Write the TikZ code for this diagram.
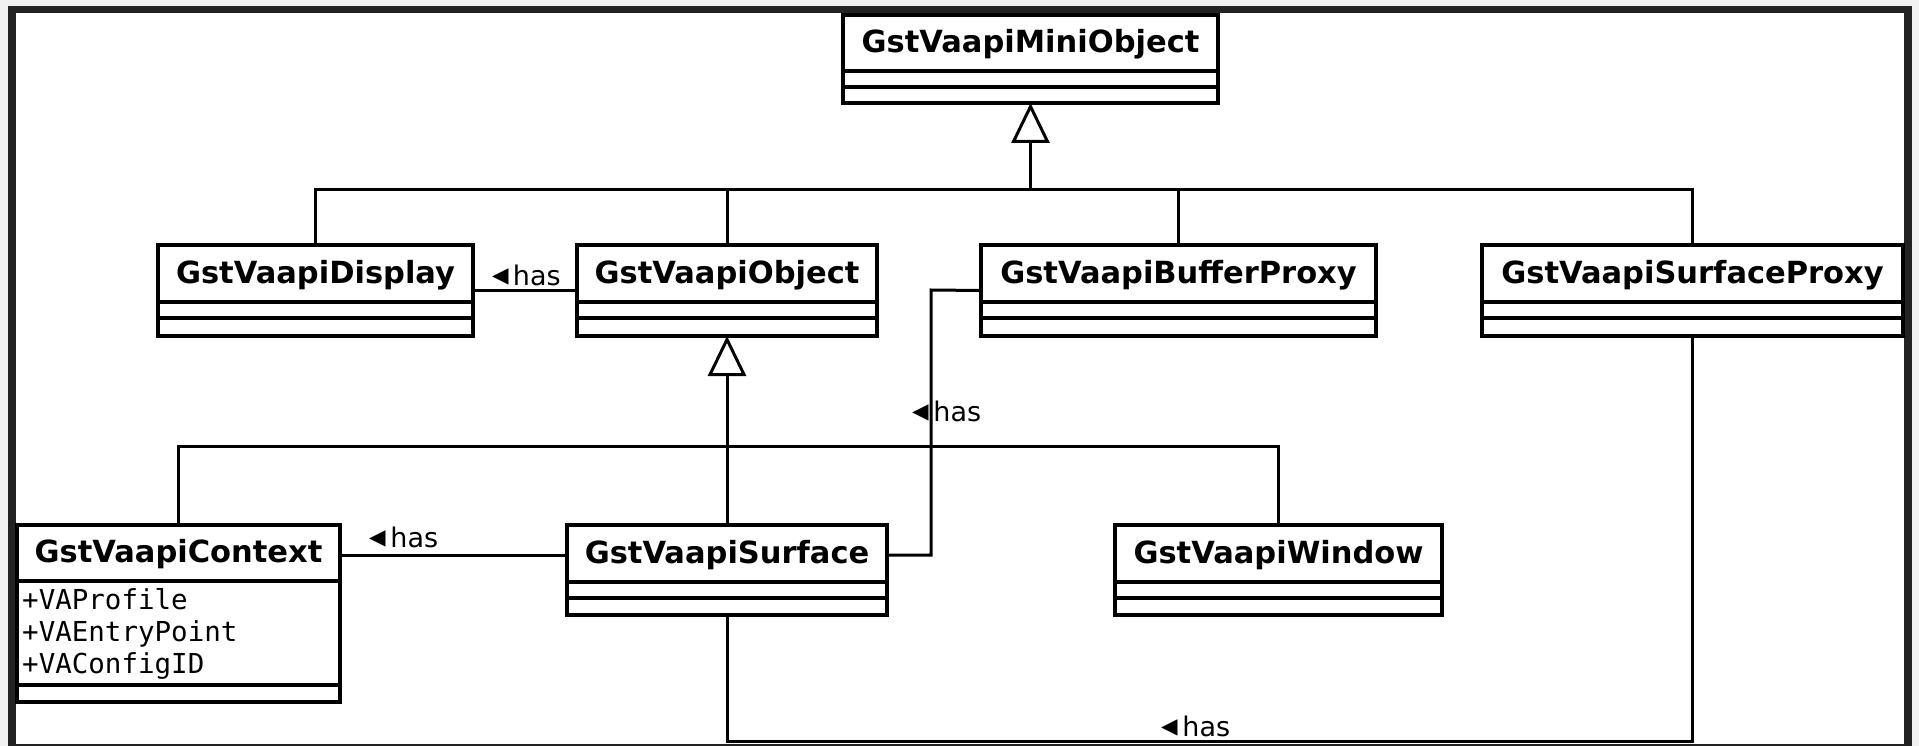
\documentclass[tikz,border=0pt]{standalone}
\usepackage{fontspec}
\setmainfont{DejaVu Sans}
\newfontfamily\monof{DejaVu Sans Mono}
\usetikzlibrary{arrows.meta,fit,calc}
\definecolor{framec}{HTML}{222222}
\definecolor{outerc}{HTML}{F0F0F0}
\newcommand\hastri{{\fontsize{33}{33}\selectfont ◂}\hspace{4pt}has}
\tikzset{
  x=1pt, y=-1pt,
  boxline/.style={draw=black, line width=3.4pt},
  conn/.style={draw=black, line width=3pt},
  gentip/.style={-{Triangle[open, fill=white, length=40pt, width=38pt, line width=3pt]}},
  ttl/.style={font=\fontsize{30.5}{36}\selectfont\bfseries, inner sep=0pt, anchor=base},
  lbl/.style={font=\fontsize{27}{32}\selectfont, inner sep=0pt, anchor=base},
  attr/.style={font=\monof\fontsize{27.5}{32}\selectfont, inner sep=0pt, anchor=base west},
}
% #1 name, #2 x1, #3 x2, #4 ytop, #5 ysep1, #6 ysep2, #7 ybot, #8 title
\newcommand\umlclass[8]{%
  \fill[white] (#2,#4) rectangle (#3,#7);
  \draw[boxline] (#2,#4) rectangle (#3,#7) (#2,#5) -- (#3,#5) (#2,#6) -- (#3,#6);
  \node[fit={(#2,#4) (#3,#7)}, inner sep=0pt, outer sep=0pt] (#1) {};
  \node[ttl] (#1-t) at ({(#2+#3)/2},{#5-18.5}) {#8};
}
\begin{document}
\begin{tikzpicture}
\path[use as bounding box] (0,0) rectangle (1919,746);
\fill[outerc] (0,0) rectangle (1919,746);
\fill[framec] (8,6) rectangle (1912,746);
\fill[white] (16,13) rectangle (1904,744);

% connector coordinates
\coordinate (mbus) at (1030.5,190);
\coordinate (obus) at (727,446);
\coordinate (bp) at (931,290);
\coordinate (bl) at (1000,741);

\umlclass{mini}{843}{1218}{15}{71}{87}{103}{GstVaapiMiniObject}
\umlclass{disp}{158}{473}{245}{302}{318}{336}{GstVaapiDisplay}
\umlclass{obj}{577}{877}{245}{302}{318}{336}{GstVaapiObject}
\umlclass{buf}{981}{1376}{245}{302}{318}{336}{GstVaapiBufferProxy}
\umlclass{sproxy}{1482}{1903}{245}{302}{318}{336}{GstVaapiSurfaceProxy}
\umlclass{ctx}{17}{340}{525}{581}{685}{702}{GstVaapiContext}
\umlclass{surf}{567}{887}{525}{582}{598}{615}{GstVaapiSurface}
\umlclass{win}{1115}{1442}{525}{582}{598}{615}{GstVaapiWindow}

\node[attr] (a1) at (22,609) {+VAProfile};
\node[attr] (a2) at (22,641) {+VAEntryPoint};
\node[attr] (a3) at (22,673) {+VAConfigID};

% inheritance to GstVaapiMiniObject
\draw[conn] (disp.north) |- (mbus);
\draw[conn] (obj.north) |- (mbus);
\draw[conn] (buf.north) |- (mbus);
\draw[conn] (sproxy.north) |- (mbus);
\draw[conn, gentip] (mbus) -- (mini.south);

% inheritance to GstVaapiObject
\draw[conn] (ctx.north) |- (obus);
\draw[conn] (win.north) |- (obus);
\draw[conn] (surf.north) -- (obus);
\draw[conn, gentip] (obus) -- (obj.south);

% associations
\draw[conn] (disp.east) -- (obj.west);
\node[lbl] (l1) at (526.5,285) {\hastri};

\draw[conn] (ctx.east |- surf-t) -- (surf.west |- surf-t);
\node[lbl] (l2) at (404,547) {\hastri};

\draw[conn] (surf.east |- surf-t) -| (bp) -- (buf.west);
\node[lbl] (l3) at (947,421) {\hastri};

\draw[conn] (surf.south) |- (bl) -| (sproxy.south);
\node[lbl] (l4) at (1196,736) {\hastri};
\end{tikzpicture}
\end{document}
